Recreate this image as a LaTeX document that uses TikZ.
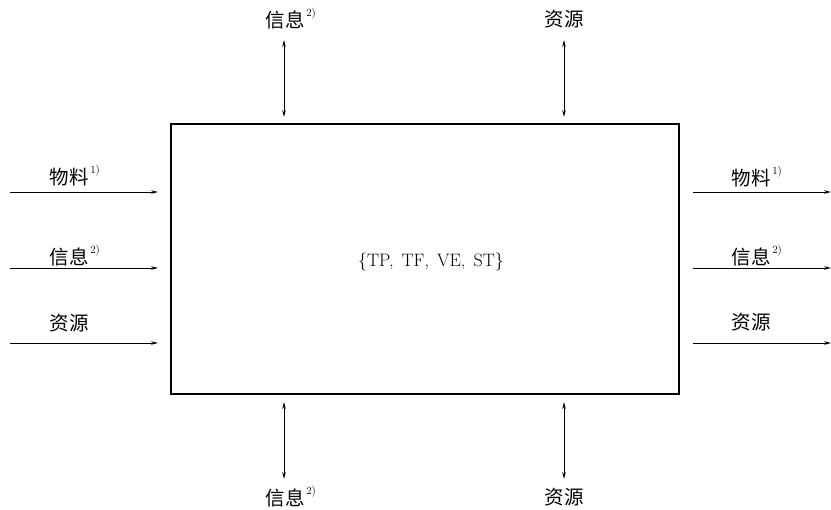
\documentclass[tikz,border=0pt]{standalone}
\usepackage{fontspec}
\newfontfamily\cjk{Noto Sans CJK SC}
\usetikzlibrary{arrows.meta}
\newcommand{\supmark}[1]{\rlap{\raisebox{0.55em}{\fontsize{11}{11}\selectfont\rmfamily\,#1}}}
\tikzset{
  lbl/.style={inner sep=0pt, font=\cjk\fontsize{19.5}{19.5}\selectfont},
  flow/.style={line width=0.8pt, -{Stealth[length=7pt,width=3.5pt]}},
  biflow/.style={line width=0.8pt, {Stealth[length=7pt,width=3.5pt]}-{Stealth[length=7pt,width=3.5pt]}},
  sysbox/.style={draw, line width=2.8pt, minimum width=508pt, minimum height=270pt, inner sep=0pt}
}
\begin{document}
\begin{tikzpicture}[x=1pt,y=-1pt]
\useasboundingbox (0,0) rectangle (831,510);
\node[sysbox] (box) at (425,259) {};
\node[inner sep=0pt, font=\fontsize{18}{18}\selectfont] (sys) at (431,262) {\{TP,\hspace{0.45em}TF,\hspace{0.45em}VE,\hspace{0.45em}ST\}};
% left inputs
\coordinate (l1s) at (10,192); \coordinate (l1e) at (158,192);
\coordinate (l2s) at (10,268); \coordinate (l2e) at (158,268);
\coordinate (l3s) at (10,343); \coordinate (l3e) at (158,343);
\draw[flow] (l1s) -- (l1e);
\draw[flow] (l2s) -- (l2e);
\draw[flow] (l3s) -- (l3e);
\node[lbl] (ll1) at (69,176) {物料\supmark{1)}};
\node[lbl] (ll2) at (69,256) {信息\supmark{2)}};
\node[lbl] (ll3) at (69,323) {资源};
% right outputs
\coordinate (r1s) at (693,192); \coordinate (r1e) at (831,192);
\coordinate (r2s) at (693,268); \coordinate (r2e) at (831,268);
\coordinate (r3s) at (693,343); \coordinate (r3e) at (831,343);
\draw[flow] (r1s) -- (r1e);
\draw[flow] (r2s) -- (r2e);
\draw[flow] (r3s) -- (r3e);
\node[lbl] (rl1) at (751,177) {物料\supmark{1)}};
\node[lbl] (rl2) at (751,256) {信息\supmark{2)}};
\node[lbl] (rl3) at (751,322) {资源};
% top
\coordinate (t1s) at (284,40); \coordinate (t1e) at (284,117);
\coordinate (t2s) at (564,40); \coordinate (t2e) at (564,117);
\draw[biflow] (t1s) -- (t1e);
\draw[biflow] (t2s) -- (t2e);
\node[lbl] (tl1) at (285,19) {信息\supmark{2)}};
\node[lbl] (tl2) at (564,19) {资源};
% bottom
\coordinate (b1s) at (284,402); \coordinate (b1e) at (284,479);
\coordinate (b2s) at (564,402); \coordinate (b2e) at (564,479);
\draw[biflow] (b1s) -- (b1e);
\draw[biflow] (b2s) -- (b2e);
\node[lbl] (bl1) at (285,497) {信息\supmark{2)}};
\node[lbl] (bl2) at (564,497) {资源};
\end{tikzpicture}
\end{document}
